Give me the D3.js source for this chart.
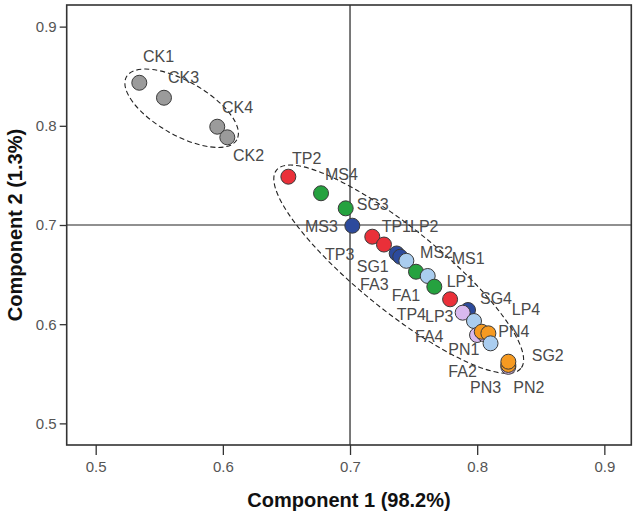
<!DOCTYPE html>
<html>
<head>
<meta charset="utf-8">
<script src="https://cdn.jsdelivr.net/npm/d3@7"></script>
<style>
  html, body { margin: 0; padding: 0; background: #fff; }
  svg { display: block; }
</style>
</head>
<body>
<svg id="chart" width="638" height="514"></svg>
<script>
// ---------------- data ----------------
const xTicks = [0.5, 0.6, 0.7, 0.8, 0.9];
const yTicks = [0.5, 0.6, 0.7, 0.8, 0.9];
const xTickLabels = ["0.5", "0.6", "0.7", "0.8", "0.9"];
const yTickLabels = ["0.5", "0.6", "0.7", "0.8", "0.9"];
const xTitle = "Component 1 (98.2%)";
const yTitle = "Component 2 (1.3%)";

const groups = ["CK", "TP", "MS", "SG", "LP", "FA", "PN"];

// points, listed in drawing order
const pointGroup = ["CK","CK","CK","CK",
  "TP","MS","MS","SG","TP","TP","SG","SG","LP","MS","LP","MS","TP",
  "SG","FA","LP","FA","FA","PN","PN","LP","FA","PN","PN"];
const pointX = [0.5343, 0.5537, 0.5956, 0.6035,
  0.6515, 0.6772, 0.6966, 0.7018, 0.7175, 0.7267, 0.7367, 0.7395, 0.7443, 0.7519, 0.7611, 0.7663, 0.7787,
  0.7928, 0.7886, 0.7975, 0.7999, 0.8055, 0.8036, 0.8088, 0.8105, 0.8245, 0.8245, 0.8245];
const pointY = [0.8434, 0.8283, 0.7991, 0.7884,
  0.7487, 0.7320, 0.7168, 0.6993, 0.6882, 0.6803, 0.6713, 0.6680, 0.6639, 0.6529, 0.6486, 0.6378, 0.6251,
  0.6143, 0.6116, 0.6032, 0.5891, 0.5900, 0.5924, 0.5908, 0.5807, 0.5570, 0.5589, 0.5622];

// point labels (anchor = start of text, baseline), in data units
const labelText = ["CK1","CK3","CK4","CK2","TP2","MS4","SG3","MS3","TP1","LP2","TP3","SG1","FA3","FA1",
  "MS2","MS1","LP1","SG4","LP4","TP4","LP3","PN4","FA4","PN1","SG2","FA2","PN3","PN2"];
const labelX = [0.5372, 0.5569, 0.5993, 0.6080, 0.6544, 0.6803, 0.7053, 0.6646, 0.7249, 0.7472, 0.6803, 0.7053, 0.7079, 0.7328,
  0.7551, 0.7800, 0.7760, 0.8022, 0.8272, 0.7367, 0.7590, 0.8166, 0.7511, 0.7773, 0.8429, 0.7773, 0.7944, 0.8284];
const labelY = [0.8643, 0.8431, 0.8129, 0.7645, 0.7615, 0.7454, 0.7151, 0.6932, 0.6932, 0.6932, 0.6647, 0.6529, 0.6345, 0.6234,
  0.6664, 0.6607, 0.6378, 0.6204, 0.6093, 0.6042, 0.6025, 0.5874, 0.5824, 0.5690, 0.5629, 0.5471, 0.5303, 0.5303];

// dashed grouping ellipses: centre, end of major axis (data units), minor/major ratio
const ellipseCX = [0.5676, 0.7383];
const ellipseCY = [0.8177, 0.6554];
const ellipseEX = [0.6110, 0.8344];
const ellipseEY = [0.7860, 0.5554];
const ellipseRatio = [0.424, 0.261];

// reference lines
const refX = 0.7;
const refY = 0.7;

// ---------------- styles ----------------
const groupColors = {
  CK: "#9b9b9b", TP: "#ea3039", MS: "#25a23f", SG: "#2c4a9c",
  LP: "#aacdef", FA: "#d8b9ee", PN: "#f69a21"
};

// ---------------- chart ----------------
const svg = d3.select("#chart");
const margin = { left: 66.7, right: 638 - 631.3, top: 5, bottom: 514 - 445 };
const W = 638, H = 514;

const x = d3.scaleLinear().domain([0.4772, 0.9212]).range([margin.left, W - margin.right]);
const y = d3.scaleLinear().domain([0.4782, 0.9218]).range([H - margin.bottom, margin.top]);

const font = "'Liberation Sans', Arial, sans-serif";

// axes
const xAxis = d3.axisBottom(x).tickValues(xTicks).tickFormat((d, i) => xTickLabels[i]).tickSize(10).tickSizeOuter(0);
const yAxis = d3.axisLeft(y).tickValues(yTicks).tickFormat((d, i) => yTickLabels[i]).tickSize(7).tickSizeOuter(0);

const gx = svg.append("g").attr("transform", `translate(0,${H - margin.bottom})`).call(xAxis);
const gy = svg.append("g").attr("transform", `translate(${margin.left},0)`).call(yAxis);
[gx, gy].forEach(g => {
  g.select(".domain").remove();
  g.selectAll(".tick line").attr("stroke", "#333").attr("stroke-width", 1.3);
  g.selectAll(".tick text").attr("fill", "#555").style("font-family", font).style("font-size", "15px");
});
gx.selectAll(".tick text").attr("dy", "0.95em").attr("y", 13);
gy.selectAll(".tick text").attr("x", -10);

// reference lines
svg.append("line").attr("x1", x(refX)).attr("x2", x(refX)).attr("y1", y.range()[1]).attr("y2", y.range()[0])
  .attr("stroke", "#222").attr("stroke-width", 1.2);
svg.append("line").attr("x1", x.range()[0]).attr("x2", x.range()[1]).attr("y1", y(refY)).attr("y2", y(refY))
  .attr("stroke", "#222").attr("stroke-width", 1.2);

// frame
svg.append("rect")
  .attr("x", x.range()[0]).attr("y", y.range()[1])
  .attr("width", x.range()[1] - x.range()[0]).attr("height", y.range()[0] - y.range()[1])
  .attr("fill", "none").attr("stroke", "#333").attr("stroke-width", 1.6);

// ellipses
ellipseCX.forEach((cx, i) => {
  const px = x(cx), py = y(ellipseCY[i]);
  const ex = x(ellipseEX[i]), ey = y(ellipseEY[i]);
  const a = Math.hypot(ex - px, ey - py);
  const ang = Math.atan2(ey - py, ex - px) * 180 / Math.PI;
  svg.append("ellipse")
    .attr("cx", 0).attr("cy", 0).attr("rx", a).attr("ry", a * ellipseRatio[i])
    .attr("transform", `translate(${px},${py}) rotate(${ang})`)
    .attr("fill", "none").attr("stroke", "#222").attr("stroke-width", 1.1)
    .attr("stroke-dasharray", "5,3");
});

// labels
svg.append("g").selectAll("text").data(labelText).join("text")
  .attr("x", (d, i) => x(labelX[i]))
  .attr("y", (d, i) => y(labelY[i]))
  .text(d => d)
  .attr("fill", "#4a4a4a")
  .style("font-family", font).style("font-size", "16px");

// points
svg.append("g").selectAll("circle").data(pointX).join("circle")
  .attr("cx", (d, i) => x(pointX[i]))
  .attr("cy", (d, i) => y(pointY[i]))
  .attr("r", 7.5)
  .attr("fill", (d, i) => groupColors[pointGroup[i]])
  .attr("stroke", "#3a3a3a").attr("stroke-width", 1);

// axis titles
svg.append("text")
  .attr("x", (x.range()[0] + x.range()[1]) / 2).attr("y", 507)
  .attr("text-anchor", "middle")
  .style("font-family", font).style("font-size", "20px").style("font-weight", "bold")
  .attr("fill", "#111").text(xTitle);
svg.append("text")
  .attr("transform", `translate(22,${(y.range()[0] + y.range()[1]) / 2}) rotate(-90)`)
  .attr("text-anchor", "middle")
  .style("font-family", font).style("font-size", "20px").style("font-weight", "bold")
  .attr("fill", "#111").text(yTitle);
</script>
</body>
</html>
